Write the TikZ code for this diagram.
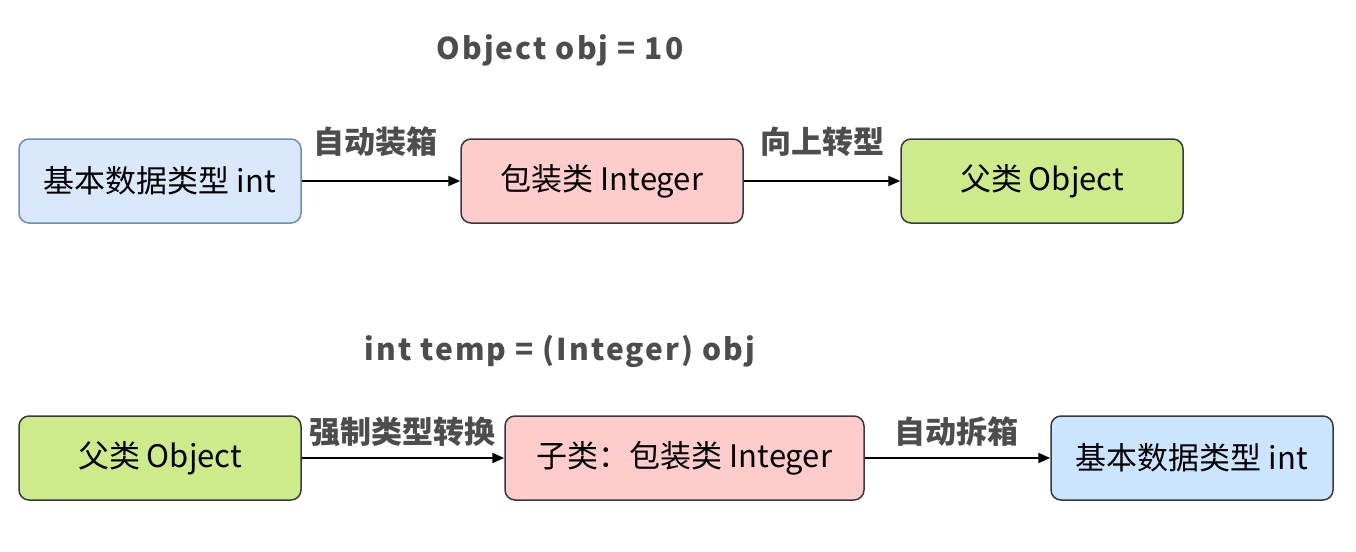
\documentclass[tikz,border=0pt]{standalone}
\usepackage{fontspec}
\setmainfont{Noto Sans CJK SC}
\newfontfamily\codefont[LetterSpace=7]{Noto Sans CJK SC}
\usetikzlibrary{arrows.meta}
\definecolor{bluefill}{HTML}{DAE8FC}
\definecolor{bluestroke}{HTML}{6C8EBF}
\definecolor{bluefill2}{HTML}{CCE5FF}
\definecolor{pinkfill}{HTML}{FFCCCC}
\definecolor{greenfill}{HTML}{CDEB8B}
\definecolor{darkstroke}{HTML}{36393D}
\definecolor{labelgray}{HTML}{4D4D4D}
\tikzset{
  box/.style={draw=darkstroke, line width=1.5pt, rounded corners=10pt, minimum height=84pt, inner sep=0pt, font=\fontsize{31}{36}\selectfont, text=black},
  conn/.style={-{Triangle[length=12pt,width=10pt]}, line width=2pt, black},
  lbl/.style={text=labelgray, font=\bfseries\fontsize{31}{36}\selectfont, inner sep=0pt},
  code/.style={text=labelgray, font=\codefont\bfseries\fontsize{30}{36}\selectfont, inner sep=0pt},
}
\begin{document}
\begin{tikzpicture}[x=1pt,y=-1pt]
\useasboundingbox (0,0) rectangle (1356,551);
% top row
\node[box, draw=bluestroke, fill=bluefill, minimum width=282pt] (a1) at (160,181) {基本数据类型 int};
\node[box, fill=pinkfill, minimum width=282pt] (a2) at (602,181) {包装类 Integer};
\node[box, fill=greenfill, minimum width=282pt] (a3) at (1042,181) {父类 Object};
\draw[conn] (a1) -- (a2);
\draw[conn] (a2) -- (a3);
\node[lbl] (l1) at (375,142) {自动装箱};
\node[lbl] (l2) at (822,142) {向上转型};
\node[code] (c1) at (560,50) {Object obj = 10};
% bottom row
\node[box, fill=greenfill, minimum width=282pt] (b1) at (160,458) {父类 Object};
\node[box, fill=pinkfill, minimum width=359pt] (b2) at (684.5,458) {子类：包装类 Integer};
\node[box, fill=bluefill2, minimum width=282pt] (b3) at (1192,458) {基本数据类型 int};
\draw[conn] (b1) -- (b2);
\draw[conn] (b2) -- (b3);
\node[lbl] (l3) at (402,432) {强制类型转换};
\node[lbl] (l4) at (956,432) {自动拆箱};
\node[code] (c2) at (560,351) {int temp = (Integer) obj};
\end{tikzpicture}
\end{document}
